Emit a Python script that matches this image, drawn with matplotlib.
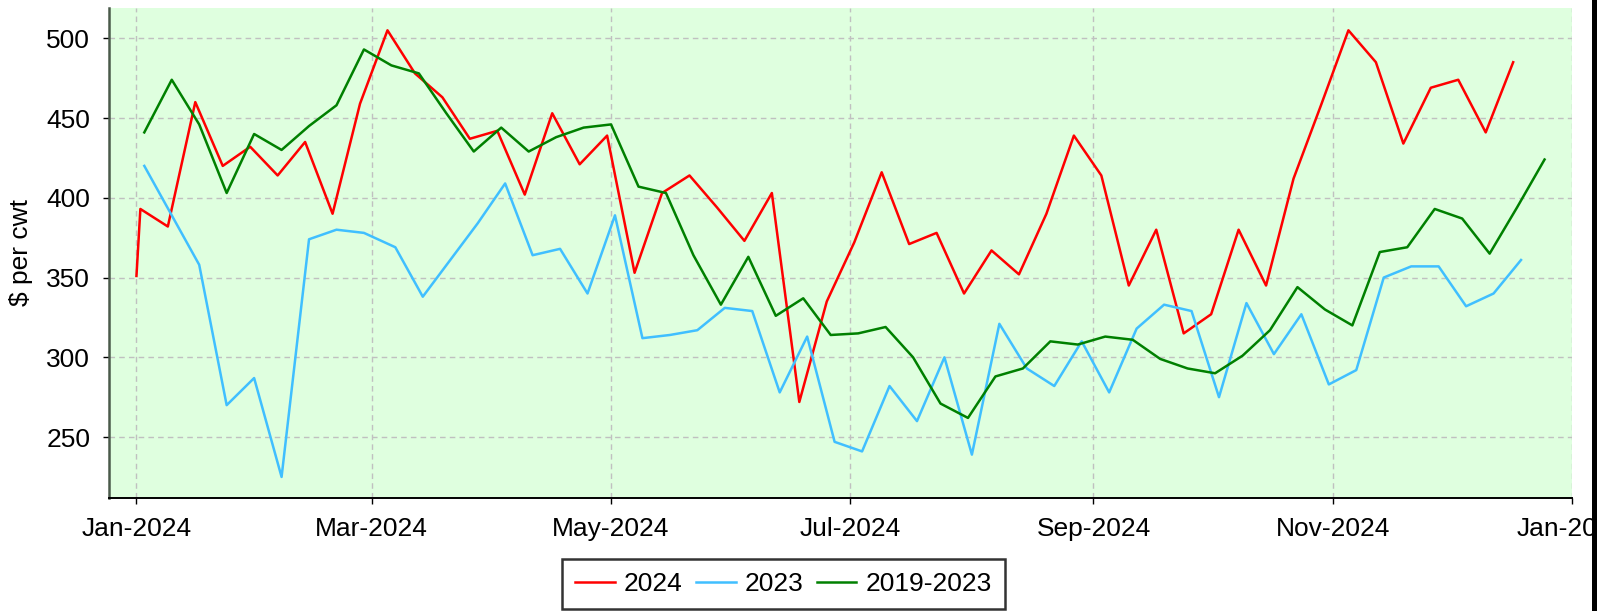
import matplotlib
matplotlib.use("Agg")
import matplotlib.pyplot as plt
import matplotlib.dates as mdates
from matplotlib.patches import Rectangle
import pandas as pd

plt.rcParams['font.family'] = ['Liberation Sans', 'DejaVu Sans']

# ---- data ----
dates_2024 = [pd.Timestamp('2024-01-01')] + list(pd.date_range('2024-01-02', periods=51, freq='7D'))
vals_2024 = [351, 393, 382, 460, 420, 432, 414, 435, 390, 459, 505,
             478, 463, 437, 442, 402, 453, 421, 439, 353, 403, 414,
             394, 373, 403, 272, 335, 372, 416, 371, 378, 340, 367,
             352, 390, 439, 414, 345, 380, 315, 327, 380, 345, 412,
             458, 505, 485, 434, 469, 474, 441, 485]

dates_2023 = list(pd.date_range('2023-01-03', periods=51, freq='7D') + pd.DateOffset(years=1))
vals_2023 = [420, 389, 358, 270, 287, 225, 374, 380, 378, 369, 338,
             361, 384, 409, 364, 368, 340, 389, 312, 314, 317, 331,
             329, 278, 313, 247, 241, 282, 260, 300, 239, 321, 293,
             282, 310, 278, 318, 333, 329, 275, 334, 302, 327, 283,
             292, 350, 357, 357, 332, 340, 361]

dates_avg = list(pd.date_range('2024-01-03', periods=52, freq='7D'))
vals_avg = [441, 474, 446, 403, 440, 430, 445, 458, 493, 483, 478,
            453, 429, 444, 429, 438, 444, 446, 407, 403, 364, 333,
            363, 326, 337, 314, 315, 319, 300, 271, 262, 288, 293,
            310, 308, 313, 311, 299, 293, 290, 301, 317, 344, 330,
            320, 366, 369, 393, 387, 365, 394, 424]

series_labels = ['2024', '2023', '2019-2023']
series_colors = ['#FF0000', '#40BFFF', '#008000']

# ---- figure ----
W, H = 1614, 611
fig = plt.figure(figsize=(W / 100, H / 100), dpi=100)
ax = fig.add_axes([109 / W, (H - 498) / H, (1572 - 109) / W, (498 - 7.5) / H])
ax.set_facecolor('#DFFFDF')

lines = []
for d, v, lab, c in zip([dates_2024, dates_2023, dates_avg],
                        [vals_2024, vals_2023, vals_avg],
                        series_labels, series_colors):
    ln, = ax.plot(d, v, color=c, lw=1.8, label=lab, zorder=3)
    lines.append(ln)

ax.set_xlim(pd.Timestamp('2023-12-25'), pd.Timestamp('2025-01-01'))
ax.set_ylim(211.8, 519.3)
ax.set_yticks([250, 300, 350, 400, 450, 500])
ax.xaxis.set_major_locator(mdates.MonthLocator(bymonth=[1, 3, 5, 7, 9, 11]))
ax.xaxis.set_major_formatter(mdates.DateFormatter('%b-%Y'))

ax.grid(True, color='#C0C0C0', linestyle=(0, (4, 3)), linewidth=1.0, zorder=1)
ax.set_axisbelow(True)

for s in ['top', 'right']:
    ax.spines[s].set_visible(False)
ax.spines['left'].set_color('#4A5A4A')
ax.spines['left'].set_linewidth(1.8)
ax.spines['bottom'].set_color('#000000')
ax.spines['bottom'].set_linewidth(1.4)

ax.tick_params(axis='both', labelsize=19, length=4.5, width=1.0, colors='#000000')
ax.tick_params(axis='y', pad=9)
ax.tick_params(axis='x', pad=9)
ax.set_ylabel('$ per cwt', fontsize=19)
ax.yaxis.set_label_coords(-0.052, 0.5)

leg = fig.legend(handles=lines, labels=series_labels, loc='center',
                 bbox_to_anchor=(783.5 / W, 1 - 584 / H), ncol=3,
                 fontsize=19, frameon=True, fancybox=False,
                 handlelength=1.5, handletextpad=0.35, columnspacing=0.5,
                 borderpad=0.5)
leg.get_frame().set_edgecolor('#000000')
leg.get_frame().set_linewidth(1.8)
leg.get_frame().set_facecolor('white')

# black border bar at right edge and white margin beyond it
fig.add_artist(Rectangle((1596.5 / W, 0), (W - 1596.5) / W, 1, transform=fig.transFigure,
                         facecolor='white', edgecolor='none', zorder=10))
fig.add_artist(Rectangle((1591.8 / W, 0), 5 / W, 1, transform=fig.transFigure,
                         facecolor='black', edgecolor='none', zorder=11))

fig.savefig('out.png', dpi=100)
